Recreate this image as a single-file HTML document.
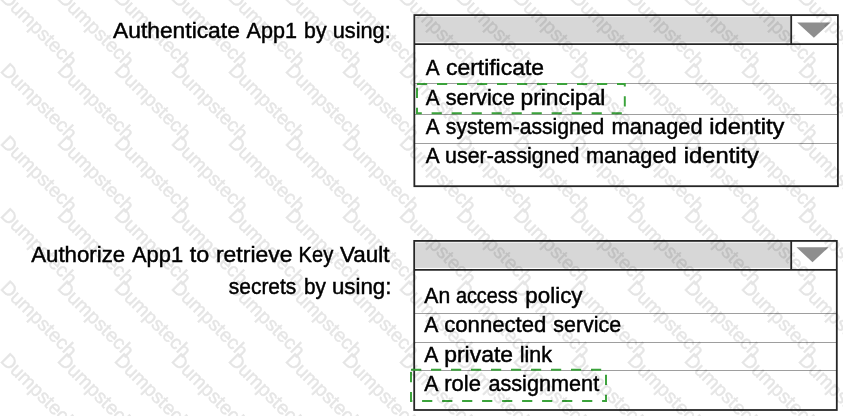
<!DOCTYPE html>
<html><head><meta charset="utf-8"><title>q</title>
<style>
html,body{margin:0;padding:0;background:#fff;}
body{width:843px;height:416px;overflow:hidden;position:relative;font-family:"Liberation Sans",sans-serif;}
svg{position:absolute;left:0;top:0;display:block;will-change:transform;}
text{font-family:"Liberation Sans",sans-serif;}
</style></head><body>
<svg width="843" height="416" viewBox="0 0 843 416">
<rect x="0" y="0" width="843" height="416" fill="#ffffff"/>
<rect x="415.55" y="16.8" width="374.85" height="25.5" fill="#d7d7d7"/>
<line x1="414.35" y1="83.5" x2="837.9" y2="83.5" stroke="#939393" stroke-width="0.9"/>
<line x1="414.35" y1="114.5" x2="837.9" y2="114.5" stroke="#939393" stroke-width="0.9"/>
<line x1="414.35" y1="143.5" x2="837.9" y2="143.5" stroke="#939393" stroke-width="0.9"/>
<line x1="414.35" y1="44.2" x2="837.9" y2="44.2" stroke="#262626" stroke-width="1.8"/>
<line x1="791.2" y1="15.1" x2="791.2" y2="44.2" stroke="#262626" stroke-width="1.8"/>
<rect x="414.35" y="15.1" width="423.54999999999995" height="171.1" fill="none" stroke="#262626" stroke-width="1.8"/>
<polygon points="797.2,22.5 830.6,22.5 813.9000000000001,37.7" fill="#8e8e8e"/>
<rect x="415.4" y="242.6" width="375.00000000000006" height="25.300000000000004" fill="#d7d7d7"/>
<line x1="414.2" y1="313.5" x2="836.8" y2="313.5" stroke="#939393" stroke-width="0.9"/>
<line x1="414.2" y1="342.5" x2="836.8" y2="342.5" stroke="#939393" stroke-width="0.9"/>
<line x1="414.2" y1="370.5" x2="836.8" y2="370.5" stroke="#939393" stroke-width="0.9"/>
<line x1="414.2" y1="269.8" x2="836.8" y2="269.8" stroke="#262626" stroke-width="1.8"/>
<line x1="791.2" y1="240.9" x2="791.2" y2="269.8" stroke="#262626" stroke-width="1.8"/>
<rect x="414.2" y="240.9" width="422.59999999999997" height="169.1" fill="none" stroke="#262626" stroke-width="1.8"/>
<polygon points="796.5,247.2 828.5,247.2 812.5,262.3" fill="#8e8e8e"/>
<g font-size="21.6" fill="#000" stroke="#000" stroke-width="0.45"><text x="113.02" y="37.6" textLength="126.81" lengthAdjust="spacingAndGlyphs">Authenticate</text>
<text x="246.56" y="37.6" textLength="50.34" lengthAdjust="spacingAndGlyphs">App1</text>
<text x="304.10" y="37.6" textLength="22.38" lengthAdjust="spacingAndGlyphs">by</text>
<text x="332.73" y="37.6" textLength="57.98" lengthAdjust="spacingAndGlyphs">using:</text>
<text x="31.18" y="262.0" textLength="93.99" lengthAdjust="spacingAndGlyphs">Authorize</text>
<text x="132.02" y="262.0" textLength="51.06" lengthAdjust="spacingAndGlyphs">App1</text>
<text x="189.82" y="262.0" textLength="19.51" lengthAdjust="spacingAndGlyphs">to</text>
<text x="215.96" y="262.0" textLength="76.55" lengthAdjust="spacingAndGlyphs">retrieve</text>
<text x="298.61" y="262.0" textLength="34.62" lengthAdjust="spacingAndGlyphs">Key</text>
<text x="339.93" y="262.0" textLength="49.47" lengthAdjust="spacingAndGlyphs">Vault</text>
<text x="228.79" y="293.5" textLength="67.56" lengthAdjust="spacingAndGlyphs">secrets</text>
<text x="303.91" y="293.5" textLength="21.92" lengthAdjust="spacingAndGlyphs">by</text>
<text x="331.98" y="293.5" textLength="59.49" lengthAdjust="spacingAndGlyphs">using:</text>
<text x="425.76" y="75.2" textLength="13.84" lengthAdjust="spacingAndGlyphs">A</text>
<text x="445.95" y="75.2" textLength="98.12" lengthAdjust="spacingAndGlyphs">certificate</text>
<text x="425.76" y="104.7" textLength="13.84" lengthAdjust="spacingAndGlyphs">A</text>
<text x="445.67" y="104.7" textLength="69.15" lengthAdjust="spacingAndGlyphs">service</text>
<text x="520.53" y="104.7" textLength="84.86" lengthAdjust="spacingAndGlyphs">principal</text>
<text x="425.76" y="134.0" textLength="13.84" lengthAdjust="spacingAndGlyphs">A</text>
<text x="445.85" y="134.0" textLength="158.40" lengthAdjust="spacingAndGlyphs">system-assigned</text>
<text x="611.56" y="134.0" textLength="91.01" lengthAdjust="spacingAndGlyphs">managed</text>
<text x="709.25" y="134.0" textLength="75.09" lengthAdjust="spacingAndGlyphs">identity</text>
<text x="425.76" y="163.0" textLength="13.84" lengthAdjust="spacingAndGlyphs">A</text>
<text x="445.10" y="163.0" textLength="134.37" lengthAdjust="spacingAndGlyphs">user-assigned</text>
<text x="585.97" y="163.0" textLength="90.63" lengthAdjust="spacingAndGlyphs">managed</text>
<text x="683.75" y="163.0" textLength="75.25" lengthAdjust="spacingAndGlyphs">identity</text>
<text x="424.33" y="303.0" textLength="25.87" lengthAdjust="spacingAndGlyphs">An</text>
<text x="455.91" y="303.0" textLength="61.77" lengthAdjust="spacingAndGlyphs">access</text>
<text x="525.33" y="303.0" textLength="57.17" lengthAdjust="spacingAndGlyphs">policy</text>
<text x="424.32" y="332.2" textLength="14.11" lengthAdjust="spacingAndGlyphs">A</text>
<text x="444.19" y="332.2" textLength="102.20" lengthAdjust="spacingAndGlyphs">connected</text>
<text x="553.34" y="332.2" textLength="67.87" lengthAdjust="spacingAndGlyphs">service</text>
<text x="424.32" y="361.5" textLength="14.11" lengthAdjust="spacingAndGlyphs">A</text>
<text x="444.22" y="361.5" textLength="68.79" lengthAdjust="spacingAndGlyphs">private</text>
<text x="519.83" y="361.5" textLength="32.12" lengthAdjust="spacingAndGlyphs">link</text>
<text x="424.32" y="390.8" textLength="14.11" lengthAdjust="spacingAndGlyphs">A</text>
<text x="444.25" y="390.8" textLength="36.72" lengthAdjust="spacingAndGlyphs">role</text>
<text x="488.42" y="390.8" textLength="110.75" lengthAdjust="spacingAndGlyphs">assignment</text></g>
<rect x="417.0" y="84.0" width="207.80" height="29.20" fill="none" stroke="#3ba33b" stroke-width="1.95" stroke-dasharray="10.2 9.8"/>
<rect x="411.0" y="369.7" width="195.00" height="31.30" fill="none" stroke="#3ba33b" stroke-width="1.95" stroke-dasharray="10.2 9.8"/>
<g font-size="19.5" fill="#000" stroke="#000" stroke-width="0.5" opacity="0.105"><text x="-0.6" y="-1.3" transform="rotate(45 -0.6 -1.3)">Dumpstech</text>
<text x="56.4" y="-1.3" transform="rotate(45 56.4 -1.3)">Dumpstech</text>
<text x="113.4" y="-1.3" transform="rotate(45 113.4 -1.3)">Dumpstech</text>
<text x="170.4" y="-1.3" transform="rotate(45 170.4 -1.3)">Dumpstech</text>
<text x="227.4" y="-1.3" transform="rotate(45 227.4 -1.3)">Dumpstech</text>
<text x="284.4" y="-1.3" transform="rotate(45 284.4 -1.3)">Dumpstech</text>
<text x="341.4" y="-1.3" transform="rotate(45 341.4 -1.3)">Dumpstech</text>
<text x="398.4" y="-1.3" transform="rotate(45 398.4 -1.3)">Dumpstech</text>
<text x="455.4" y="-1.3" transform="rotate(45 455.4 -1.3)">Dumpstech</text>
<text x="512.4" y="-1.3" transform="rotate(45 512.4 -1.3)">Dumpstech</text>
<text x="569.4" y="-1.3" transform="rotate(45 569.4 -1.3)">Dumpstech</text>
<text x="626.4" y="-1.3" transform="rotate(45 626.4 -1.3)">Dumpstech</text>
<text x="683.4" y="-1.3" transform="rotate(45 683.4 -1.3)">Dumpstech</text>
<text x="740.4" y="-1.3" transform="rotate(45 740.4 -1.3)">Dumpstech</text>
<text x="797.4" y="-1.3" transform="rotate(45 797.4 -1.3)">Dumpstech</text>
<text x="-0.6" y="71.2" transform="rotate(45 -0.6 71.2)">Dumpstech</text>
<text x="56.4" y="71.2" transform="rotate(45 56.4 71.2)">Dumpstech</text>
<text x="113.4" y="71.2" transform="rotate(45 113.4 71.2)">Dumpstech</text>
<text x="170.4" y="71.2" transform="rotate(45 170.4 71.2)">Dumpstech</text>
<text x="227.4" y="71.2" transform="rotate(45 227.4 71.2)">Dumpstech</text>
<text x="284.4" y="71.2" transform="rotate(45 284.4 71.2)">Dumpstech</text>
<text x="341.4" y="71.2" transform="rotate(45 341.4 71.2)">Dumpstech</text>
<text x="398.4" y="71.2" transform="rotate(45 398.4 71.2)">Dumpstech</text>
<text x="455.4" y="71.2" transform="rotate(45 455.4 71.2)">Dumpstech</text>
<text x="512.4" y="71.2" transform="rotate(45 512.4 71.2)">Dumpstech</text>
<text x="569.4" y="71.2" transform="rotate(45 569.4 71.2)">Dumpstech</text>
<text x="626.4" y="71.2" transform="rotate(45 626.4 71.2)">Dumpstech</text>
<text x="683.4" y="71.2" transform="rotate(45 683.4 71.2)">Dumpstech</text>
<text x="740.4" y="71.2" transform="rotate(45 740.4 71.2)">Dumpstech</text>
<text x="797.4" y="71.2" transform="rotate(45 797.4 71.2)">Dumpstech</text>
<text x="-0.6" y="143.7" transform="rotate(45 -0.6 143.7)">Dumpstech</text>
<text x="56.4" y="143.7" transform="rotate(45 56.4 143.7)">Dumpstech</text>
<text x="113.4" y="143.7" transform="rotate(45 113.4 143.7)">Dumpstech</text>
<text x="170.4" y="143.7" transform="rotate(45 170.4 143.7)">Dumpstech</text>
<text x="227.4" y="143.7" transform="rotate(45 227.4 143.7)">Dumpstech</text>
<text x="284.4" y="143.7" transform="rotate(45 284.4 143.7)">Dumpstech</text>
<text x="341.4" y="143.7" transform="rotate(45 341.4 143.7)">Dumpstech</text>
<text x="398.4" y="143.7" transform="rotate(45 398.4 143.7)">Dumpstech</text>
<text x="455.4" y="143.7" transform="rotate(45 455.4 143.7)">Dumpstech</text>
<text x="512.4" y="143.7" transform="rotate(45 512.4 143.7)">Dumpstech</text>
<text x="569.4" y="143.7" transform="rotate(45 569.4 143.7)">Dumpstech</text>
<text x="626.4" y="143.7" transform="rotate(45 626.4 143.7)">Dumpstech</text>
<text x="683.4" y="143.7" transform="rotate(45 683.4 143.7)">Dumpstech</text>
<text x="740.4" y="143.7" transform="rotate(45 740.4 143.7)">Dumpstech</text>
<text x="797.4" y="143.7" transform="rotate(45 797.4 143.7)">Dumpstech</text>
<text x="-0.6" y="216.2" transform="rotate(45 -0.6 216.2)">Dumpstech</text>
<text x="56.4" y="216.2" transform="rotate(45 56.4 216.2)">Dumpstech</text>
<text x="113.4" y="216.2" transform="rotate(45 113.4 216.2)">Dumpstech</text>
<text x="170.4" y="216.2" transform="rotate(45 170.4 216.2)">Dumpstech</text>
<text x="227.4" y="216.2" transform="rotate(45 227.4 216.2)">Dumpstech</text>
<text x="284.4" y="216.2" transform="rotate(45 284.4 216.2)">Dumpstech</text>
<text x="341.4" y="216.2" transform="rotate(45 341.4 216.2)">Dumpstech</text>
<text x="398.4" y="216.2" transform="rotate(45 398.4 216.2)">Dumpstech</text>
<text x="455.4" y="216.2" transform="rotate(45 455.4 216.2)">Dumpstech</text>
<text x="512.4" y="216.2" transform="rotate(45 512.4 216.2)">Dumpstech</text>
<text x="569.4" y="216.2" transform="rotate(45 569.4 216.2)">Dumpstech</text>
<text x="626.4" y="216.2" transform="rotate(45 626.4 216.2)">Dumpstech</text>
<text x="683.4" y="216.2" transform="rotate(45 683.4 216.2)">Dumpstech</text>
<text x="740.4" y="216.2" transform="rotate(45 740.4 216.2)">Dumpstech</text>
<text x="797.4" y="216.2" transform="rotate(45 797.4 216.2)">Dumpstech</text>
<text x="-0.6" y="288.7" transform="rotate(45 -0.6 288.7)">Dumpstech</text>
<text x="56.4" y="288.7" transform="rotate(45 56.4 288.7)">Dumpstech</text>
<text x="113.4" y="288.7" transform="rotate(45 113.4 288.7)">Dumpstech</text>
<text x="170.4" y="288.7" transform="rotate(45 170.4 288.7)">Dumpstech</text>
<text x="227.4" y="288.7" transform="rotate(45 227.4 288.7)">Dumpstech</text>
<text x="284.4" y="288.7" transform="rotate(45 284.4 288.7)">Dumpstech</text>
<text x="341.4" y="288.7" transform="rotate(45 341.4 288.7)">Dumpstech</text>
<text x="398.4" y="288.7" transform="rotate(45 398.4 288.7)">Dumpstech</text>
<text x="455.4" y="288.7" transform="rotate(45 455.4 288.7)">Dumpstech</text>
<text x="512.4" y="288.7" transform="rotate(45 512.4 288.7)">Dumpstech</text>
<text x="569.4" y="288.7" transform="rotate(45 569.4 288.7)">Dumpstech</text>
<text x="626.4" y="288.7" transform="rotate(45 626.4 288.7)">Dumpstech</text>
<text x="683.4" y="288.7" transform="rotate(45 683.4 288.7)">Dumpstech</text>
<text x="740.4" y="288.7" transform="rotate(45 740.4 288.7)">Dumpstech</text>
<text x="797.4" y="288.7" transform="rotate(45 797.4 288.7)">Dumpstech</text>
<text x="-0.6" y="361.2" transform="rotate(45 -0.6 361.2)">Dumpstech</text>
<text x="56.4" y="361.2" transform="rotate(45 56.4 361.2)">Dumpstech</text>
<text x="113.4" y="361.2" transform="rotate(45 113.4 361.2)">Dumpstech</text>
<text x="170.4" y="361.2" transform="rotate(45 170.4 361.2)">Dumpstech</text>
<text x="227.4" y="361.2" transform="rotate(45 227.4 361.2)">Dumpstech</text>
<text x="284.4" y="361.2" transform="rotate(45 284.4 361.2)">Dumpstech</text>
<text x="341.4" y="361.2" transform="rotate(45 341.4 361.2)">Dumpstech</text>
<text x="398.4" y="361.2" transform="rotate(45 398.4 361.2)">Dumpstech</text>
<text x="455.4" y="361.2" transform="rotate(45 455.4 361.2)">Dumpstech</text>
<text x="512.4" y="361.2" transform="rotate(45 512.4 361.2)">Dumpstech</text>
<text x="569.4" y="361.2" transform="rotate(45 569.4 361.2)">Dumpstech</text>
<text x="626.4" y="361.2" transform="rotate(45 626.4 361.2)">Dumpstech</text>
<text x="683.4" y="361.2" transform="rotate(45 683.4 361.2)">Dumpstech</text>
<text x="740.4" y="361.2" transform="rotate(45 740.4 361.2)">Dumpstech</text>
<text x="797.4" y="361.2" transform="rotate(45 797.4 361.2)">Dumpstech</text></g>
</svg></body></html>
